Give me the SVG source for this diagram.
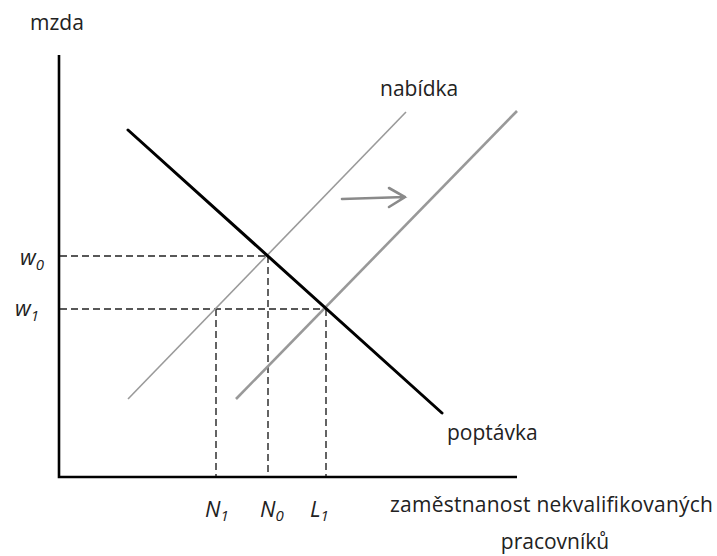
<svg xmlns="http://www.w3.org/2000/svg" width="717" height="556" viewBox="0 0 717 556">
<style>
text{font-family:"Open Sans","Liberation Sans",sans-serif;font-size:21px;fill:#222}
.it{font-style:italic;font-size:22px}
.sub{font-size:15px}
.axis{stroke:#000;stroke-width:2.6;fill:none}
.dash{stroke:#222;stroke-width:1.4;stroke-dasharray:7 4;fill:none}
.demand{stroke:#000;stroke-width:3;fill:none;stroke-linecap:round}
.s0{stroke:#9a9a9a;stroke-width:1.6;fill:none}
.s1{stroke:#999;stroke-width:2.6;fill:none}
.arrow{stroke:#8a8a8a;stroke-width:2.6;fill:none;stroke-linecap:round}
</style>
<rect width="717" height="556" fill="#fff"/>
<g id="axes">
<polyline class="axis" points="59,55 59,477 517,477"/>
</g>
<g id="guides">
<line class="dash" x1="60" y1="256" x2="268" y2="256"/>
<line class="dash" x1="60" y1="309" x2="326" y2="309"/>
<line class="dash" x1="216" y1="309" x2="216" y2="476"/>
<line class="dash" x1="268" y1="256" x2="268" y2="476"/>
<line class="dash" x1="326" y1="309" x2="326" y2="476"/>
</g>
<g id="curves">
<line class="s0" x1="128" y1="399" x2="406" y2="112"/>
<line class="s1" x1="236" y1="399" x2="517" y2="111"/>
<line class="demand" x1="128" y1="130" x2="442" y2="413"/>
</g>
<g id="shift">
<path class="arrow" d="M342,199 L405,197 M389,188 L405,197 L389,207"/>
</g>
<g id="labels">
<text x="30" y="30">mzda</text>
<text x="380" y="96">nabídka</text>
<text x="447" y="440">poptávka</text>
<text class="it" x="20" y="265">w<tspan class="sub" dy="5">0</tspan></text>
<text class="it" x="15" y="316">w<tspan class="sub" dy="5">1</tspan></text>
<text class="it" x="205" y="517">N<tspan class="sub" dy="4">1</tspan></text>
<text class="it" x="260" y="517">N<tspan class="sub" dy="4">0</tspan></text>
<text class="it" x="310" y="517">L<tspan class="sub" dy="4">1</tspan></text>
<text x="390" y="512" textLength="323" lengthAdjust="spacing">zaměstnanost nekvalifikovaných</text>
<text x="555" y="549" text-anchor="middle">pracovníků</text>
</g>
</svg>
